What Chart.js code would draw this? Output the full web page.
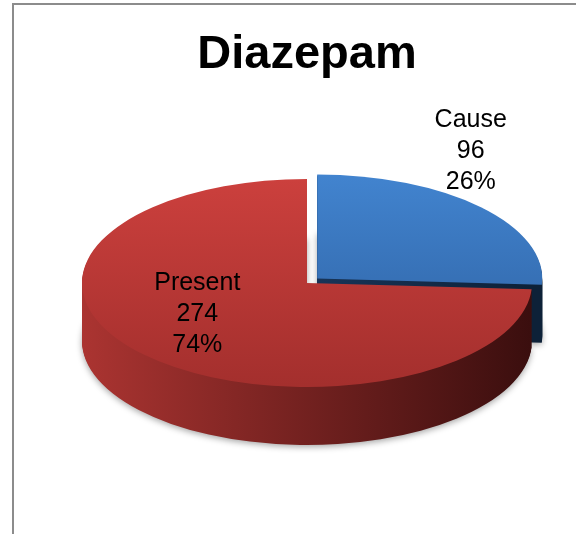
<!DOCTYPE html>
<html>
<head>
<meta charset="utf-8">
<script src="https://cdn.jsdelivr.net/npm/chart.js@4"></script>
<style>
html, body { margin: 0; padding: 0; background: #fff; overflow: hidden; }
</style>
</head>
<body>
<canvas id="pie" width="576" height="600"></canvas>
<script>
const labels = ['Cause', 'Present'];
const values = [96, 274];

// screen ellipse of the top face + thickness of the disc
const CY = 283, RY = 104, DEPTH = 58;
const topColors = [['#4386d2', '#2b5c9b'], ['#ce413e', '#a12e2c']];
const sideColors = [['#24497a', '#0d2138'], ['#ab3431', '#3a0e0e']];
// where the data labels sit, as a fraction of rx / ry along the mid angle
const labelPlace = [[1.0, 1.85], [0.67, 0.435]];
const FONT = '"Liberation Sans", Arial, sans-serif';

function squash(ctx, el, shift) {
  const k = RY / el.outerRadius;
  ctx.translate(0, CY + shift);
  ctx.scale(1, k);
  ctx.translate(0, -el.y);
}

// same shift the arc element uses when it draws an exploded slice
function slicePath(ctx, el) {
  const off = (el.options.offset || 0) / 4;
  const mid = (el.startAngle + el.endAngle) / 2;
  const x = el.x + Math.cos(mid) * off, y = el.y + Math.sin(mid) * off;
  ctx.beginPath();
  ctx.moveTo(x, y);
  ctx.arc(x, y, el.outerRadius, el.startAngle, el.endAngle);
  ctx.closePath();
}

const pie3d = {
  id: 'pie3d',
  beforeDraw(chart) {
    const ctx = chart.ctx;
    ctx.save();
    ctx.strokeStyle = '#8c8c8c';
    ctx.lineWidth = 2;
    ctx.beginPath();
    ctx.moveTo(13, 600);
    ctx.lineTo(13, 4);
    ctx.lineTo(576, 4);
    ctx.stroke();
    ctx.restore();
  },
  beforeDatasetsDraw(chart) {
    const ctx = chart.ctx;
    const arcs = chart.getDatasetMeta(0).data;
    const R = arcs[0].outerRadius, cx = arcs[0].x;
    const grads = arcs.map((el, i) => {
      const g = ctx.createLinearGradient(cx - R, 0, cx + R, 0);
      g.addColorStop(0, sideColors[i][0]);
      g.addColorStop(1, sideColors[i][1]);
      return g;
    });
    for (let s = DEPTH; s >= 1; s--) {
      ctx.save();
      if (s === DEPTH) {
        ctx.shadowColor = 'rgba(0,0,0,0.35)';
        ctx.shadowBlur = 6;
        ctx.shadowOffsetY = 2;
      }
      squash(ctx, arcs[0], s);
      arcs.forEach((el, i) => {
        ctx.fillStyle = grads[i];
        slicePath(ctx, el);
        ctx.fill();
      });
      ctx.restore();
    }
    ctx.save();
    squash(ctx, arcs[0], 0);
  },
  afterDatasetsDraw(chart) {
    const ctx = chart.ctx;
    ctx.restore();
    const arcs = chart.getDatasetMeta(0).data;
    const total = values.reduce((a, b) => a + b, 0);
    ctx.save();
    ctx.fillStyle = '#000';
    ctx.font = '25px ' + FONT;
    ctx.textAlign = 'center';
    ctx.textBaseline = 'middle';
    arcs.forEach((el, i) => {
      const mid = (el.startAngle + el.endAngle) / 2;
      const [fx, fy] = labelPlace[i];
      const x = el.x + Math.cos(mid) * el.outerRadius * fx;
      const y = CY + Math.sin(mid) * RY * fy;
      const lines = [labels[i], String(values[i]), Math.round(values[i] / total * 100) + '%'];
      lines.forEach((t, j) => ctx.fillText(t, x, y + (j - 1) * 31));
    });
    ctx.restore();
  }
};

new Chart(document.getElementById('pie'), {
  type: 'pie',
  data: {
    labels: labels,
    datasets: [{
      data: values,
      borderWidth: 0,
      offset: [56, 0],
      backgroundColor: (c) => {
        const a = c.chart.chartArea;
        if (!a) return topColors[c.dataIndex][0];
        const cy = (a.top + a.bottom) / 2;
        const r = Math.min(a.right - a.left, a.bottom - a.top) / 2;
        const g = c.chart.ctx.createLinearGradient(0, cy - r, 0, cy + r);
        g.addColorStop(0, topColors[c.dataIndex][0]);
        g.addColorStop(1, topColors[c.dataIndex][1]);
        return g;
      }
    }]
  },
  options: {
    responsive: false,
    animation: false,
    events: [],
    layout: { padding: { left: 54, right: 16, top: 0, bottom: 0 } },
    plugins: {
      legend: { display: false },
      tooltip: { enabled: false },
      title: {
        display: true,
        text: 'Diazepam',
        color: '#000',
        font: { family: FONT, size: 47, weight: 'bold' },
        padding: { top: 27, bottom: 0 }
      }
    }
  },
  plugins: [pie3d]
});
</script>
</body>
</html>
